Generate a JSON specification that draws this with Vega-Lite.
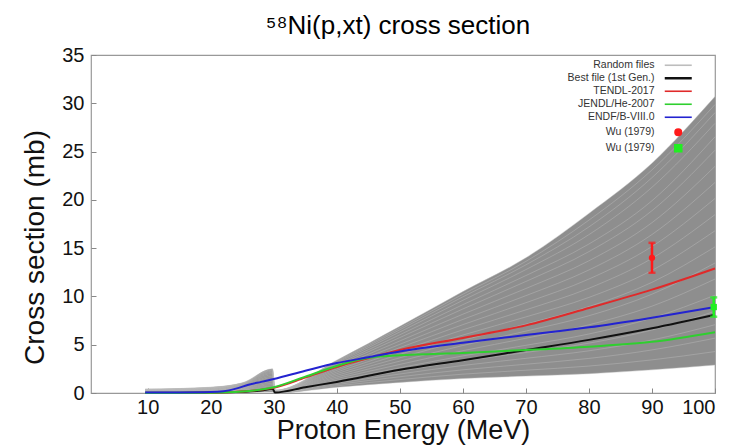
{
"$schema":"https://vega.github.io/schema/vega-lite/v6.json",
"width":624,"height":338,
"autosize":{"type":"none"},
"padding":{"left":91,"top":55,"right":26,"bottom":54},
"title":{"text":"⁵⁸Ni(p,xt) cross section","font":"Liberation Sans","fontSize":26,"fontWeight":"normal","color":"#000","baseline":"alphabetic","offset":-15,"dx":-5},
"config":{
 "view":{"stroke":"#999","strokeWidth":1.2},
 "axis":{"labelFont":"Liberation Sans","labelFontSize":20,"labelColor":"#111","tickColor":"#888","tickSize":-5,"domain":false,"grid":false,"titleFont":"Liberation Sans","titleFontSize":28,"titleFontWeight":"normal","titleColor":"#111"},
 "legend":{"labelFont":"Liberation Sans"}
},
"datasets":{
"rand":[
{"f":1,"E":9.6,"s":0.02},{"f":1,"E":20,"s":0.03},{"f":1,"E":25,"s":0.05},{"f":1,"E":29.8,"s":0.1},{"f":1,"E":30.2,"s":0},{"f":1,"E":40,"s":0.6},{"f":1,"E":50,"s":1.1},{"f":1,"E":60,"s":1.5},{"f":1,"E":70,"s":1.75},{"f":1,"E":80,"s":2.0},{"f":1,"E":90,"s":2.4},{"f":1,"E":100,"s":2.9},
{"f":2,"E":9.6,"s":0.04},{"f":2,"E":20,"s":0.06},{"f":2,"E":25,"s":0.1},{"f":2,"E":29.8,"s":0.22},{"f":2,"E":30.2,"s":0.02},{"f":2,"E":40,"s":0.74},{"f":2,"E":50,"s":1.39},{"f":2,"E":60,"s":1.95},{"f":2,"E":70,"s":2.36},{"f":2,"E":80,"s":2.79},{"f":2,"E":90,"s":3.43},{"f":2,"E":100,"s":4.29},
{"f":3,"E":9.6,"s":0.06},{"f":3,"E":20,"s":0.09},{"f":3,"E":25,"s":0.15},{"f":3,"E":29.8,"s":0.34},{"f":3,"E":30.2,"s":0.03},{"f":3,"E":40,"s":0.88},{"f":3,"E":50,"s":1.68},{"f":3,"E":60,"s":2.4},{"f":3,"E":70,"s":2.98},{"f":3,"E":80,"s":3.58},{"f":3,"E":90,"s":4.46},{"f":3,"E":100,"s":5.68},
{"f":4,"E":9.6,"s":0.08},{"f":4,"E":20,"s":0.12},{"f":4,"E":25,"s":0.2},{"f":4,"E":29.8,"s":0.46},{"f":4,"E":30.2,"s":0.05},{"f":4,"E":40,"s":1.02},{"f":4,"E":50,"s":1.97},{"f":4,"E":60,"s":2.85},{"f":4,"E":70,"s":3.59},{"f":4,"E":80,"s":4.37},{"f":4,"E":90,"s":5.49},{"f":4,"E":100,"s":7.07},
{"f":5,"E":9.6,"s":0.1},{"f":5,"E":20,"s":0.14},{"f":5,"E":25,"s":0.25},{"f":5,"E":29.8,"s":0.58},{"f":5,"E":30.2,"s":0.06},{"f":5,"E":40,"s":1.16},{"f":5,"E":50,"s":2.26},{"f":5,"E":60,"s":3.3},{"f":5,"E":70,"s":4.2},{"f":5,"E":80,"s":5.16},{"f":5,"E":90,"s":6.52},{"f":5,"E":100,"s":8.46},
{"f":6,"E":9.6,"s":0.12},{"f":6,"E":20,"s":0.18},{"f":6,"E":25,"s":0.31},{"f":6,"E":29.8,"s":0.72},{"f":6,"E":30.2,"s":0.08},{"f":6,"E":40,"s":1.33},{"f":6,"E":50,"s":2.61},{"f":6,"E":60,"s":3.84},{"f":6,"E":70,"s":4.94},{"f":6,"E":80,"s":6.11},{"f":6,"E":90,"s":7.76},{"f":6,"E":100,"s":10.13},
{"f":7,"E":9.6,"s":0.14},{"f":7,"E":20,"s":0.21},{"f":7,"E":25,"s":0.37},{"f":7,"E":29.8,"s":0.87},{"f":7,"E":30.2,"s":0.1},{"f":7,"E":40,"s":1.5},{"f":7,"E":50,"s":2.96},{"f":7,"E":60,"s":4.38},{"f":7,"E":70,"s":5.67},{"f":7,"E":80,"s":7.06},{"f":7,"E":90,"s":8.99},{"f":7,"E":100,"s":11.8},
{"f":8,"E":9.6,"s":0.16},{"f":8,"E":20,"s":0.25},{"f":8,"E":25,"s":0.43},{"f":8,"E":29.8,"s":1.01},{"f":8,"E":30.2,"s":0.11},{"f":8,"E":40,"s":1.66},{"f":8,"E":50,"s":3.3},{"f":8,"E":60,"s":4.92},{"f":8,"E":70,"s":6.41},{"f":8,"E":80,"s":8.0},{"f":8,"E":90,"s":10.23},{"f":8,"E":100,"s":13.46},
{"f":9,"E":9.6,"s":0.19},{"f":9,"E":20,"s":0.28},{"f":9,"E":25,"s":0.49},{"f":9,"E":29.8,"s":1.16},{"f":9,"E":30.2,"s":0.13},{"f":9,"E":40,"s":1.83},{"f":9,"E":50,"s":3.65},{"f":9,"E":60,"s":5.46},{"f":9,"E":70,"s":7.14},{"f":9,"E":80,"s":8.95},{"f":9,"E":90,"s":11.46},{"f":9,"E":100,"s":15.13},
{"f":10,"E":9.6,"s":0.21},{"f":10,"E":20,"s":0.32},{"f":10,"E":25,"s":0.55},{"f":10,"E":29.8,"s":1.3},{"f":10,"E":30.2,"s":0.15},{"f":10,"E":40,"s":2.0},{"f":10,"E":50,"s":4.0},{"f":10,"E":60,"s":6.0},{"f":10,"E":70,"s":7.88},{"f":10,"E":80,"s":9.9},{"f":10,"E":90,"s":12.7},{"f":10,"E":100,"s":16.8},
{"f":11,"E":9.6,"s":0.23},{"f":11,"E":20,"s":0.35},{"f":11,"E":25,"s":0.61},{"f":11,"E":29.8,"s":1.44},{"f":11,"E":30.2,"s":0.17},{"f":11,"E":40,"s":2.17},{"f":11,"E":50,"s":4.35},{"f":11,"E":60,"s":6.54},{"f":11,"E":70,"s":8.61},{"f":11,"E":80,"s":10.85},{"f":11,"E":90,"s":13.94},{"f":11,"E":100,"s":18.47},
{"f":12,"E":9.6,"s":0.26},{"f":12,"E":20,"s":0.38},{"f":12,"E":25,"s":0.67},{"f":12,"E":29.8,"s":1.59},{"f":12,"E":30.2,"s":0.19},{"f":12,"E":40,"s":2.34},{"f":12,"E":50,"s":4.7},{"f":12,"E":60,"s":7.08},{"f":12,"E":70,"s":9.35},{"f":12,"E":80,"s":11.8},{"f":12,"E":90,"s":15.17},{"f":12,"E":100,"s":20.14},
{"f":13,"E":9.6,"s":0.28},{"f":13,"E":20,"s":0.42},{"f":13,"E":25,"s":0.73},{"f":13,"E":29.8,"s":1.73},{"f":13,"E":30.2,"s":0.2},{"f":13,"E":40,"s":2.5},{"f":13,"E":50,"s":5.04},{"f":13,"E":60,"s":7.62},{"f":13,"E":70,"s":10.08},{"f":13,"E":80,"s":12.74},{"f":13,"E":90,"s":16.41},{"f":13,"E":100,"s":21.8},
{"f":14,"E":9.6,"s":0.3},{"f":14,"E":20,"s":0.45},{"f":14,"E":25,"s":0.79},{"f":14,"E":29.8,"s":1.88},{"f":14,"E":30.2,"s":0.22},{"f":14,"E":40,"s":2.67},{"f":14,"E":50,"s":5.39},{"f":14,"E":60,"s":8.16},{"f":14,"E":70,"s":10.82},{"f":14,"E":80,"s":13.69},{"f":14,"E":90,"s":17.64},{"f":14,"E":100,"s":23.47},
{"f":15,"E":9.6,"s":0.32},{"f":15,"E":20,"s":0.49},{"f":15,"E":25,"s":0.85},{"f":15,"E":29.8,"s":2.02},{"f":15,"E":30.2,"s":0.24},{"f":15,"E":40,"s":2.84},{"f":15,"E":50,"s":5.74},{"f":15,"E":60,"s":8.7},{"f":15,"E":70,"s":11.55},{"f":15,"E":80,"s":14.64},{"f":15,"E":90,"s":18.88},{"f":15,"E":100,"s":25.14},
{"f":16,"E":9.6,"s":0.34},{"f":16,"E":20,"s":0.51},{"f":16,"E":25,"s":0.9},{"f":16,"E":29.8,"s":2.14},{"f":16,"E":30.2,"s":0.26},{"f":16,"E":40,"s":2.98},{"f":16,"E":50,"s":6.03},{"f":16,"E":60,"s":9.15},{"f":16,"E":70,"s":12.16},{"f":16,"E":80,"s":15.43},{"f":16,"E":90,"s":19.91},{"f":16,"E":100,"s":26.53},
{"f":17,"E":9.6,"s":0.36},{"f":17,"E":20,"s":0.54},{"f":17,"E":25,"s":0.95},{"f":17,"E":29.8,"s":2.26},{"f":17,"E":30.2,"s":0.27},{"f":17,"E":40,"s":3.12},{"f":17,"E":50,"s":6.32},{"f":17,"E":60,"s":9.6},{"f":17,"E":70,"s":12.78},{"f":17,"E":80,"s":16.4},{"f":17,"E":90,"s":21.3},{"f":17,"E":100,"s":27.92},
{"f":18,"E":9.6,"s":0.38},{"f":18,"E":20,"s":0.57},{"f":18,"E":25,"s":0.99},{"f":18,"E":29.8,"s":2.36},{"f":18,"E":30.2,"s":0.28},{"f":18,"E":40,"s":3.23},{"f":18,"E":50,"s":6.55},{"f":18,"E":60,"s":9.96},{"f":18,"E":70,"s":13.27},{"f":18,"E":80,"s":17.2},{"f":18,"E":90,"s":22.3},{"f":18,"E":100,"s":29.03},
{"f":19,"E":9.6,"s":0.39},{"f":19,"E":20,"s":0.58},{"f":19,"E":25,"s":1.02},{"f":19,"E":29.8,"s":2.43},{"f":19,"E":30.2,"s":0.29},{"f":19,"E":40,"s":3.32},{"f":19,"E":50,"s":6.73},{"f":19,"E":60,"s":10.23},{"f":19,"E":70,"s":13.63},{"f":19,"E":80,"s":17.9},{"f":19,"E":90,"s":23.1},{"f":19,"E":100,"s":29.87},
{"f":20,"E":9.6,"s":0.4},{"f":20,"E":20,"s":0.6},{"f":20,"E":25,"s":1.05},{"f":20,"E":29.8,"s":2.5},{"f":20,"E":30.2,"s":0.3},{"f":20,"E":40,"s":3.4},{"f":20,"E":50,"s":6.9},{"f":20,"E":60,"s":10.5},{"f":20,"E":70,"s":14.0},{"f":20,"E":80,"s":18.6},{"f":20,"E":90,"s":23.8},{"f":20,"E":100,"s":30.7}
],
"ev":[
{"k":"best","E":9.6,"s":0.02},{"k":"best","E":15,"s":0.03},{"k":"best","E":20,"s":0.05},{"k":"best","E":25,"s":0.12},{"k":"best","E":28,"s":0.25},{"k":"best","E":29.8,"s":0.45},{"k":"best","E":30.2,"s":0.05},{"k":"best","E":35,"s":0.6},{"k":"best","E":40,"s":1.15},{"k":"best","E":50,"s":2.4},{"k":"best","E":60,"s":3.4},{"k":"best","E":70,"s":4.45},{"k":"best","E":80,"s":5.5},{"k":"best","E":90,"s":6.7},{"k":"best","E":100,"s":8.1},
{"k":"tendl","E":9.6,"s":0.0},{"k":"tendl","E":15,"s":0.01},{"k":"tendl","E":20,"s":0.03},{"k":"tendl","E":23,"s":0.08},{"k":"tendl","E":25,"s":0.15},{"k":"tendl","E":28,"s":0.35},{"k":"tendl","E":30,"s":0.55},{"k":"tendl","E":35,"s":1.6},{"k":"tendl","E":40,"s":2.7},{"k":"tendl","E":45,"s":3.6},{"k":"tendl","E":50,"s":4.45},{"k":"tendl","E":60,"s":5.7},{"k":"tendl","E":70,"s":7.0},{"k":"tendl","E":80,"s":8.8},{"k":"tendl","E":90,"s":10.7},{"k":"tendl","E":100,"s":12.9},
{"k":"jendl","E":9.6,"s":0.0},{"k":"jendl","E":20,"s":0.03},{"k":"jendl","E":25,"s":0.15},{"k":"jendl","E":30,"s":0.6},{"k":"jendl","E":35,"s":1.7},{"k":"jendl","E":40,"s":2.8},{"k":"jendl","E":45,"s":3.65},{"k":"jendl","E":50,"s":3.9},{"k":"jendl","E":60,"s":4.15},{"k":"jendl","E":70,"s":4.45},{"k":"jendl","E":80,"s":4.8},{"k":"jendl","E":90,"s":5.3},{"k":"jendl","E":100,"s":6.3},
{"k":"endf","E":9.6,"s":0.05},{"k":"endf","E":15,"s":0.06},{"k":"endf","E":20,"s":0.1},{"k":"endf","E":22,"s":0.18},{"k":"endf","E":24,"s":0.45},{"k":"endf","E":26,"s":0.85},{"k":"endf","E":28,"s":1.15},{"k":"endf","E":30,"s":1.45},{"k":"endf","E":35,"s":2.3},{"k":"endf","E":40,"s":3.1},{"k":"endf","E":45,"s":3.7},{"k":"endf","E":50,"s":4.3},{"k":"endf","E":60,"s":5.2},{"k":"endf","E":70,"s":6.0},{"k":"endf","E":80,"s":6.8},{"k":"endf","E":90,"s":7.8},{"k":"endf","E":100,"s":8.9}
],
"exp":[
{"k":"wu1","E":90,"s":14.0,"lo":12.45,"hi":15.55},
{"k":"wu2","E":99.8,"s":8.9,"lo":7.9,"hi":9.9}
]
},
"layer":[
{"data":{"name":"rand"},
 "transform":[{"aggregate":[{"op":"min","field":"s","as":"lo"},{"op":"max","field":"s","as":"hi"}],"groupby":["E"]}],
 "mark":{"type":"area","interpolate":"monotone","color":"#8e8e8e"},
 "encoding":{
  "x":{"field":"E","type":"quantitative","title":"Proton Energy (MeV)","scale":{"domain":[1,100],"nice":false},"axis":{"values":[10,20,30,40,50,60,70,80,90,100],"labelPadding":9,"titlePadding":0,"titleFontSize":27}},
  "y":{"field":"lo","type":"quantitative","title":"Cross section (mb)","scale":{"domain":[0,35],"nice":false},"axis":{"values":[0,5,10,15,20,25,30,35],"labelPadding":12,"titleX":-42,"titleY":192}},
  "y2":{"field":"hi"}}},
{"data":{"name":"rand"},
 "mark":{"type":"line","interpolate":"monotone","strokeWidth":0.6,"opacity":0.75},
 "encoding":{
  "x":{"field":"E","type":"quantitative","title":"Proton Energy (MeV)","scale":{"domain":[1,100],"nice":false}},
  "y":{"field":"s","type":"quantitative","title":"Cross section (mb)","scale":{"domain":[0,35],"nice":false}},
  "detail":{"field":"f","type":"nominal"},
  "color":{"datum":"rand","type":"nominal"}}},
{"data":{"name":"ev"},
 "mark":{"type":"line","interpolate":"monotone","strokeWidth":2},
 "encoding":{
  "x":{"field":"E","type":"quantitative","title":"Proton Energy (MeV)","scale":{"domain":[1,100],"nice":false}},
  "y":{"field":"s","type":"quantitative","title":"Cross section (mb)","scale":{"domain":[0,35],"nice":false}},
  "color":{"field":"k","type":"nominal",
   "scale":{"domain":["rand","best","tendl","jendl","endf","wu1","wu2"],"range":["#bdbdbd","#111111","#e02a2a","#2fcf2f","#2323d0","#ff1a1a","#22ee22"]},
   "legend":{"orient":"none","legendX":582,"legendY":5,"title":null,"padding":0,"labelAlign":"right","labelOffset":-29,"symbolSize":81,"rowPadding":2,"labelFontSize":10.5,"labelColor":"#333",
    "labelExpr":"datum.value==='rand'?'Random files':datum.value==='best'?'Best file (1st Gen.)':datum.value==='tendl'?'TENDL-2017':datum.value==='jendl'?'JENDL/He-2007':datum.value==='endf'?'ENDF/B-VIII.0':'Wu (1979)'",
    "encode":{"symbols":{"update":{
     "shape":{"signal":"datum.value==='wu1'?'circle':datum.value==='wu2'?'square':'M-3,0H3'"},
     "size":{"signal":"datum.value==='wu1'?42:datum.value==='wu2'?48:81"},
     "fill":{"signal":"datum.value==='wu1'?'#ff1a1a':datum.value==='wu2'?'#22ee22':'transparent'"},
     "stroke":{"signal":"datum.value==='wu1'||datum.value==='wu2'?'transparent':scale('color',datum.value)"},
     "strokeWidth":{"signal":"datum.value==='best'?2.5:1.6"},
     "opacity":{"value":1}}}}}}}},
{"data":{"name":"exp"},
 "mark":{"type":"errorbar","ticks":true,"size":7,"thickness":2.5},
 "encoding":{
  "x":{"field":"E","type":"quantitative","title":"Proton Energy (MeV)","scale":{"domain":[1,100],"nice":false}},
  "y":{"field":"lo","type":"quantitative","title":"Cross section (mb)","scale":{"domain":[0,35],"nice":false}},
  "y2":{"field":"hi"},
  "color":{"field":"k","type":"nominal"}}},
{"data":{"name":"exp"},
 "mark":{"type":"point","filled":true,"size":40,"opacity":1},
 "encoding":{
  "x":{"field":"E","type":"quantitative","title":"Proton Energy (MeV)","scale":{"domain":[1,100],"nice":false}},
  "y":{"field":"s","type":"quantitative","title":"Cross section (mb)","scale":{"domain":[0,35],"nice":false}},
  "color":{"field":"k","type":"nominal"},
  "shape":{"field":"k","type":"nominal","scale":{"domain":["wu1","wu2"],"range":["circle","square"]},"legend":null}}}
]
}
